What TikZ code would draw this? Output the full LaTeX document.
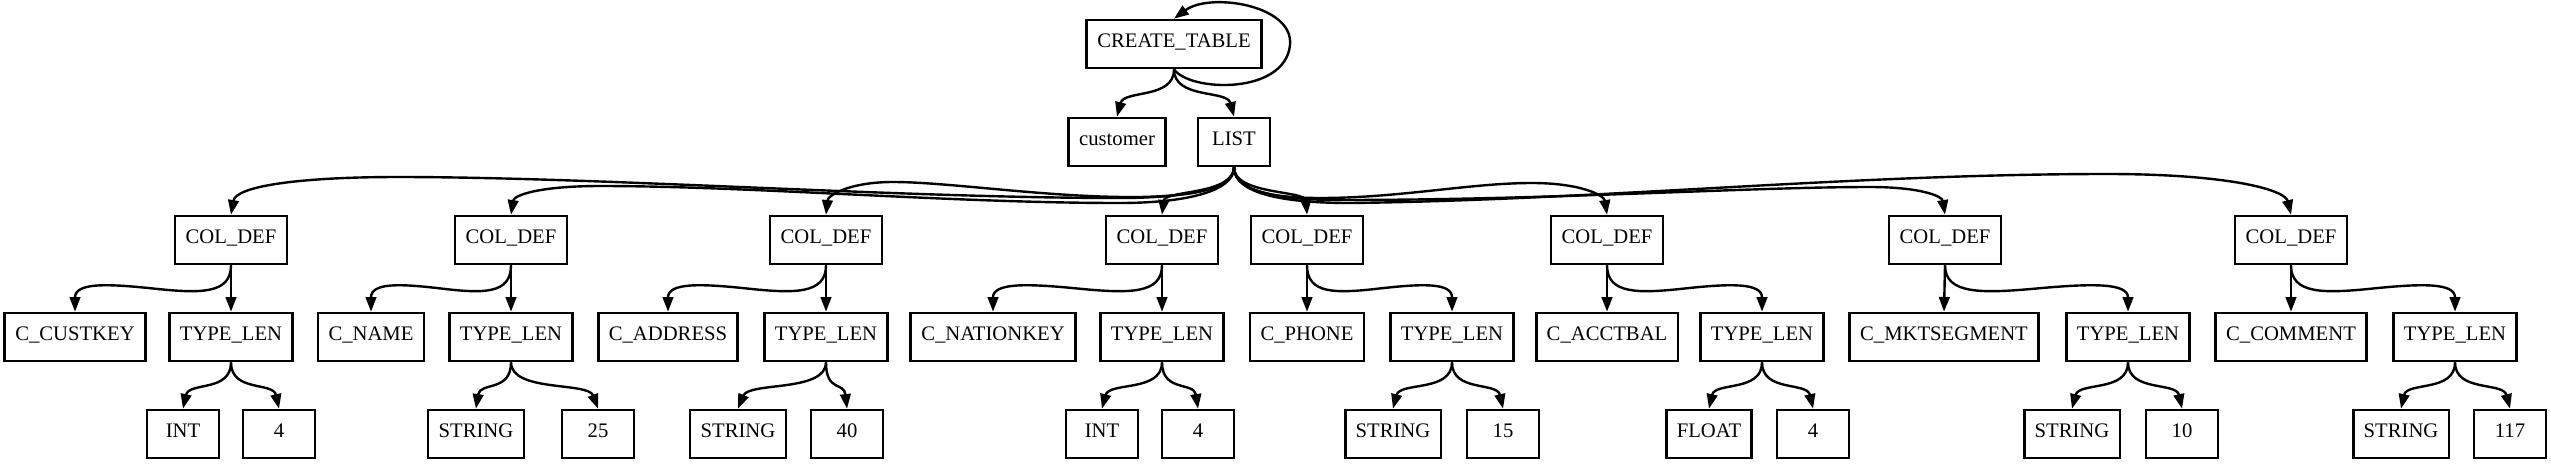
\documentclass[tikz,border=0pt]{standalone}
\usepackage{fontspec}
\setmainfont{Liberation Serif}
\usetikzlibrary{arrows.meta,calc}
% wavy link for wide spans: #1 tail, #2 head, #3 = 0.3 * horizontal distance (px)
\newcommand\wavelink[3]{%
  \draw[edge] (#1.south) .. controls +(0,29) and +({-(#3)},5) ..
    ($(#1.south)!0.5!(#2.north)$) .. controls +(#3,-5) and +(0,-29) .. (#2.north);}
% simple S link: #1 tail, #2 head, #3 = horizontal offset of last control (px)
\newcommand\slink[3]{%
  \draw[edge] (#1.south) .. controls +(0,30) and +(#3,-27) .. (#2.north);}
\begin{document}
\begin{tikzpicture}[x=0.75pt,y=-0.75pt,
  box/.style={draw, line width=2pt, minimum width=54pt, minimum height=36pt,
    inner xsep=7.9pt, inner ysep=0pt, text height=0.7em, text depth=0.2em,
    font=\fontsize{15.5}{18}\selectfont},
  edge/.style={line width=1.8pt, -{Triangle[length=11pt,width=8pt]}}]
\fill[white] (0,0) rectangle (2551,465);
\useasboundingbox (0,0) rectangle (2551,465);
% row 0 and 1
\node[box] (ct) at (1174,44) {CREATE\_TABLE};
\node[box] (cust) at (1117,142) {customer};
\node[box] (list) at (1234,142) {LIST};
% row 2
\node[box] (cd1) at (231,240) {COL\_DEF};
\node[box] (cd2) at (511,240) {COL\_DEF};
\node[box] (cd3) at (826,240) {COL\_DEF};
\node[box] (cd4) at (1162,240) {COL\_DEF};
\node[box] (cd5) at (1307,240) {COL\_DEF};
\node[box] (cd6) at (1607,240) {COL\_DEF};
\node[box] (cd7) at (1945,240) {COL\_DEF};
\node[box] (cd8) at (2291,240) {COL\_DEF};
% row 3
\node[box] (n1) at (75,337) {C\_CUSTKEY};
\node[box] (t1) at (231,337) {TYPE\_LEN};
\node[box] (n2) at (371,337) {C\_NAME};
\node[box] (t2) at (511,337) {TYPE\_LEN};
\node[box] (n3) at (668,337) {C\_ADDRESS};
\node[box] (t3) at (826,337) {TYPE\_LEN};
\node[box] (n4) at (993,337) {C\_NATIONKEY};
\node[box] (t4) at (1162,337) {TYPE\_LEN};
\node[box] (n5) at (1307,337) {C\_PHONE};
\node[box] (t5) at (1452,337) {TYPE\_LEN};
\node[box] (n6) at (1607,337) {C\_ACCTBAL};
\node[box] (t6) at (1762,337) {TYPE\_LEN};
\node[box] (n7) at (1944,337) {C\_MKTSEGMENT};
\node[box] (t7) at (2128,337) {TYPE\_LEN};
\node[box] (n8) at (2291,337) {C\_COMMENT};
\node[box] (t8) at (2455,337) {TYPE\_LEN};
% row 4
\node[box] (a1) at (183,434) {INT};
\node[box] (b1) at (279,434) {4};
\node[box] (a2) at (476,434) {STRING};
\node[box] (b2) at (598,434) {25};
\node[box] (a3) at (738,434) {STRING};
\node[box] (b3) at (847,434) {40};
\node[box] (a4) at (1102,434) {INT};
\node[box] (b4) at (1198,434) {4};
\node[box] (a5) at (1393,434) {STRING};
\node[box] (b5) at (1503,434) {15};
\node[box] (a6) at (1709,434) {FLOAT};
\node[box] (b6) at (1813,434) {4};
\node[box] (a7) at (2072,434) {STRING};
\node[box] (b7) at (2182,434) {10};
\node[box] (a8) at (2401,434) {STRING};
\node[box] (b8) at (2510,434) {117};
% top edges
\slink{ct}{cust}{7}
\slink{ct}{list}{-7}
\draw[edge] (ct.south) .. controls (1190,92) and (1285,95) .. (1290,45)
  .. controls (1294,5) and (1210,-8) .. (ct.north);
% LIST -> COL_DEF
\draw[edge] (list.south) .. controls (1234,190) and (1180,198) .. (1120,198)
  .. controls (900,198) and (600,177) .. (398,177)
  .. controls (300,177) and (236,186) .. (cd1.north);
\draw[edge] (list.south) .. controls (1234,193) and (1180,203) .. (1120,203)
  .. controls (950,203) and (750,186) .. (600,186)
  .. controls (540,186) and (514,195) .. (cd2.north);
\draw[edge] (list.south) .. controls (1234,190) and (1190,196) .. (1140,197)
  .. controls (1050,198) and (950,182) .. (893,182)
  .. controls (850,182) and (828,195) .. (cd3.north);
\draw[edge] (list.south) .. controls (1234,195) and (1165,190) .. (cd4.north);
\draw[edge] (list.south) .. controls (1234,195) and (1305,190) .. (cd5.north);
\draw[edge] (list.south) .. controls (1234,190) and (1270,198) .. (1320,198)
  .. controls (1400,198) and (1470,183) .. (1532,183)
  .. controls (1580,183) and (1604,195) .. (cd6.north);
\draw[edge] (list.south) .. controls (1234,192) and (1280,200) .. (1340,200)
  .. controls (1550,200) and (1750,187) .. (1870,187)
  .. controls (1920,187) and (1942,196) .. (cd7.north);
\draw[edge] (list.south) .. controls (1234,194) and (1285,203) .. (1350,203)
  .. controls (1600,200) and (1850,174) .. (2107,174)
  .. controls (2230,174) and (2285,190) .. (cd8.north);
% COL_DEF -> children
\wavelink{cd1}{n1}{-47}
\draw[edge] (cd1.south) -- (t1.north);
\wavelink{cd2}{n2}{-42}
\draw[edge] (cd2.south) -- (t2.north);
\wavelink{cd3}{n3}{-47}
\draw[edge] (cd3.south) -- (t3.north);
\wavelink{cd4}{n4}{-51}
\draw[edge] (cd4.south) -- (t4.north);
\draw[edge] (cd5.south) -- (n5.north);
\wavelink{cd5}{t5}{44}
\draw[edge] (cd6.south) -- (n6.north);
\wavelink{cd6}{t6}{46}
\draw[edge] (cd7.south) -- (n7.north);
\wavelink{cd7}{t7}{55}
\draw[edge] (cd8.south) -- (n8.north);
\wavelink{cd8}{t8}{49}
% TYPE_LEN -> children
\slink{t1}{a1}{6}
\slink{t1}{b1}{-6}
\slink{t2}{a2}{4}
\slink{t2}{b2}{-10}
\slink{t3}{a3}{11}
\slink{t3}{b3}{-3}
\slink{t4}{a4}{7}
\slink{t4}{b4}{-4}
\slink{t5}{a5}{7}
\slink{t5}{b5}{-6}
\slink{t6}{a6}{6}
\slink{t6}{b6}{-6}
\slink{t7}{a7}{7}
\slink{t7}{b7}{-6}
\slink{t8}{a8}{6}
\slink{t8}{b8}{-7}
\end{tikzpicture}
\end{document}
